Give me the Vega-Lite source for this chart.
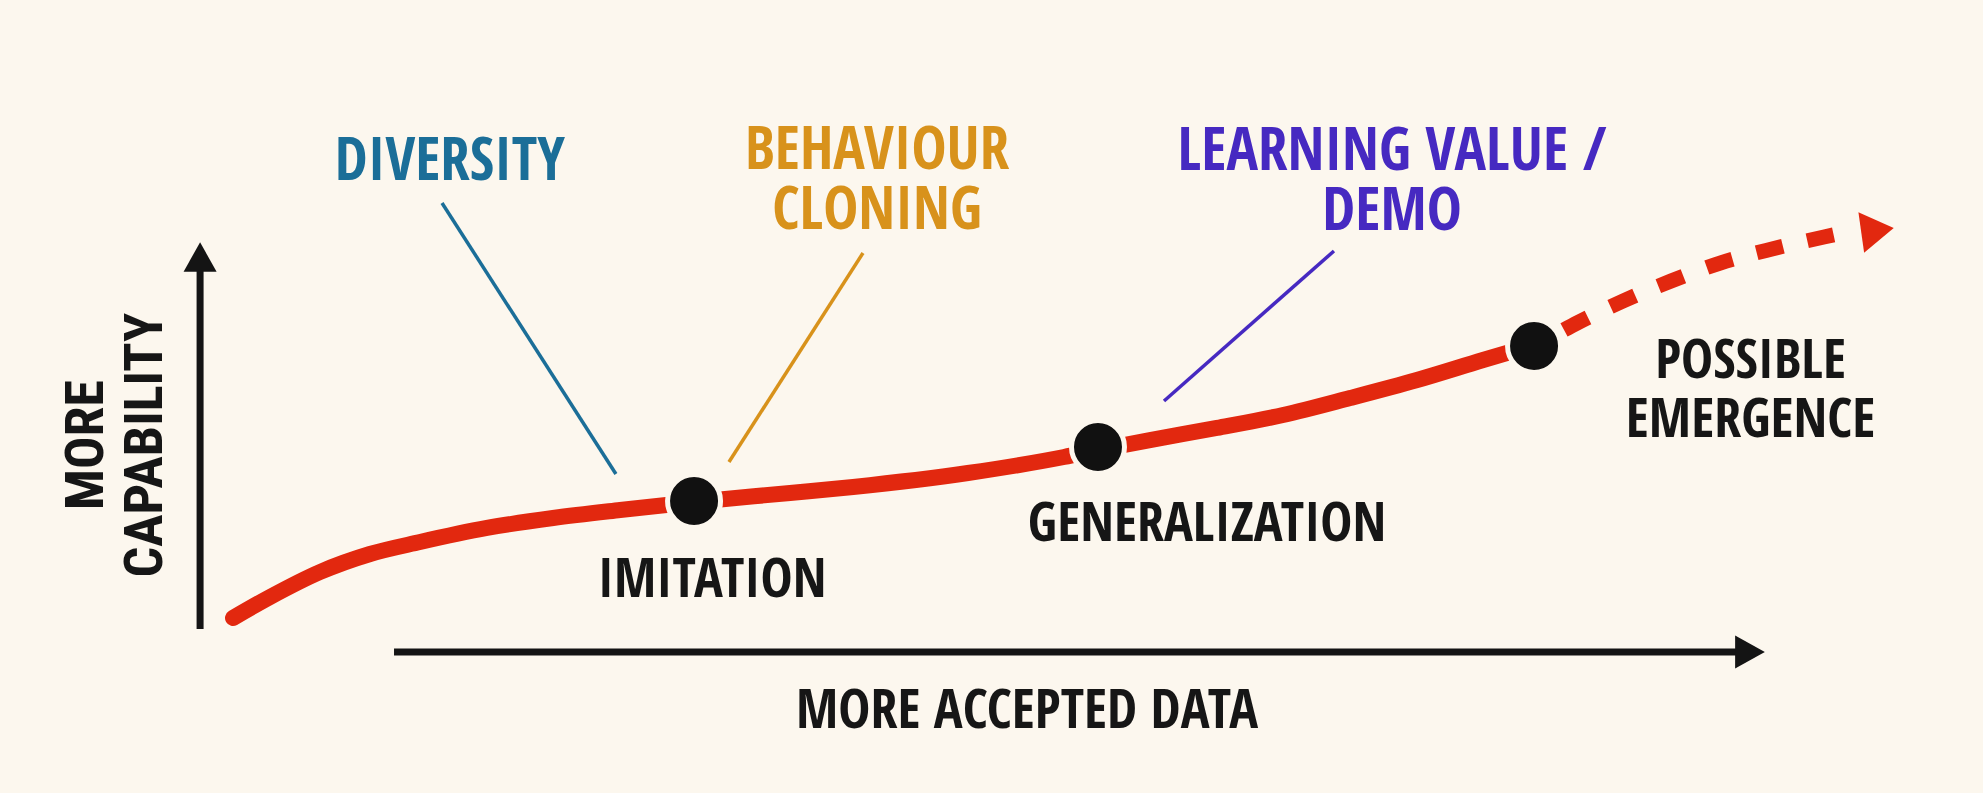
{
  "$schema": "https://vega.github.io/schema/vega-lite/v6.json",
  "description": "Conceptual chart: capability grows with more accepted data, from imitation to generalization to possible emergence",
  "width": 1983,
  "height": 793,
  "autosize": {"type": "fit", "contains": "padding"},
  "padding": 0,
  "background": "#fcf7ee",
  "config": {
    "view": {"stroke": null},
    "text": {"font": "Open Sans Condensed, Roboto Condensed, sans-serif", "fontWeight": "bold"}
  },
  "datasets": {
    "trend": [
      {"data": 11.75, "capability": 22.07},
      {"data": 13.62, "capability": 24.72},
      {"data": 16.14, "capability": 27.87},
      {"data": 18.66, "capability": 30.14},
      {"data": 21.18, "capability": 31.65},
      {"data": 24.56, "capability": 33.42},
      {"data": 27.89, "capability": 34.68},
      {"data": 31.27, "capability": 35.69},
      {"data": 35.00, "capability": 36.70},
      {"data": 39.84, "capability": 37.83},
      {"data": 43.02, "capability": 38.59},
      {"data": 48.81, "capability": 40.35},
      {"data": 53.66, "capability": 42.37},
      {"data": 55.37, "capability": 43.25},
      {"data": 57.99, "capability": 44.51},
      {"data": 61.37, "capability": 46.03},
      {"data": 64.70, "capability": 47.67},
      {"data": 68.08, "capability": 49.81},
      {"data": 71.46, "capability": 52.08},
      {"data": 74.79, "capability": 54.60},
      {"data": 77.36, "capability": 56.49}
    ],
    "projection": [
      {"data": 78.87, "capability": 58.39},
      {"data": 79.53, "capability": 59.27},
      {"data": 81.85, "capability": 62.04},
      {"data": 84.27, "capability": 64.56},
      {"data": 86.74, "capability": 66.83},
      {"data": 89.36, "capability": 68.60},
      {"data": 91.98, "capability": 70.11},
      {"data": 92.69, "capability": 70.49}
    ],
    "projectionTip": [
      {"data": 94.68, "capability": 70.97}
    ],
    "stages": [
      {"stage": "IMITATION", "data": 35.00, "capability": 36.82, "labelX": 35.91, "labelY": 24.72},
      {"stage": "GENERALIZATION", "data": 55.37, "capability": 43.63, "labelX": 60.87, "labelY": 31.78},
      {"stage": "POSSIBLE\nEMERGENCE", "data": 77.36, "capability": 56.37, "labelX": 88.28, "labelY": 52.33}
    ],
    "factors": [
      {"topic": "Diversity", "x": 22.29, "y": 74.40, "x2": 31.06, "y2": 40.23},
      {"topic": "Behaviour cloning", "x": 43.52, "y": 68.10, "x2": 36.76, "y2": 41.74},
      {"topic": "Learning value", "x": 67.27, "y": 68.35, "x2": 58.70, "y2": 49.43}
    ],
    "factorLabels": [
      {"topic": "Diversity", "text": "DIVERSITY", "x": 22.69, "y": 77.30},
      {"topic": "Behaviour cloning", "text": "BEHAVIOUR\nCLONING", "x": 44.23, "y": 78.69},
      {"topic": "Learning value", "text": "LEARNING VALUE /\nDEMO", "x": 70.20, "y": 78.56}
    ],
    "axes": [
      {"axis": "y", "x": 10.09, "y": 20.68, "x2": 10.09, "y2": 66.58, "tipX": 10.09, "tipY": 67.59},
      {"axis": "x", "x": 19.87, "y": 17.78, "x2": 87.75, "y2": 17.78, "tipX": 88.25, "tipY": 17.78}
    ],
    "axisTitles": [
      {"axis": "x", "text": "MORE ACCEPTED DATA", "x": 51.79, "y": 8.20},
      {"axis": "y", "text": "MORE", "x": 5.19, "y": 43.88},
      {"axis": "y", "text": "CAPABILITY", "x": 8.17, "y": 43.88}
    ]
  },
  "layer": [
    {
      "data": {"name": "factors"},
      "mark": {"type": "rule", "strokeWidth": 3.5},
      "encoding": {
        "x": {"field": "x", "type": "quantitative", "scale": {"domain": [0, 100], "nice": false, "zero": false}, "axis": null},
        "y": {"field": "y", "type": "quantitative", "scale": {"domain": [0, 100], "nice": false, "zero": false}, "axis": null},
        "x2": {"field": "x2"},
        "y2": {"field": "y2"},
        "color": {"field": "topic", "type": "nominal", "legend": null,
          "scale": {"domain": ["Diversity", "Behaviour cloning", "Learning value"], "range": ["#1b6e98", "#d8921b", "#4629c1"]}}
      }
    },
    {
      "data": {"name": "axes"},
      "mark": {"type": "rule", "strokeWidth": 7, "color": "#141414"},
      "encoding": {
        "x": {"field": "x", "type": "quantitative"},
        "y": {"field": "y", "type": "quantitative"},
        "x2": {"field": "x2"},
        "y2": {"field": "y2"}
      }
    },
    {
      "data": {"name": "axes"},
      "mark": {"type": "point", "filled": true, "color": "#141414", "opacity": 1, "size": 1089},
      "encoding": {
        "x": {"field": "tipX", "type": "quantitative"},
        "y": {"field": "tipY", "type": "quantitative"},
        "shape": {"field": "axis", "type": "nominal", "legend": null,
          "scale": {"domain": ["y", "x"], "range": ["M0,-0.9L1,0.9L-1,0.9Z", "M0.9,0L-0.9,-1L-0.9,1Z"]}}
      }
    },
    {
      "data": {"name": "trend"},
      "mark": {"type": "line", "color": "#e2280f", "strokeWidth": 16, "strokeCap": "round", "interpolate": "monotone"},
      "encoding": {
        "x": {"field": "data", "type": "quantitative"},
        "y": {"field": "capability", "type": "quantitative"}
      }
    },
    {
      "data": {"name": "projection"},
      "mark": {"type": "line", "color": "#e2280f", "strokeWidth": 15, "strokeCap": "butt", "strokeDash": [27, 25], "interpolate": "monotone"},
      "encoding": {
        "x": {"field": "data", "type": "quantitative"},
        "y": {"field": "capability", "type": "quantitative"}
      }
    },
    {
      "data": {"name": "projectionTip"},
      "mark": {"type": "point", "filled": true, "color": "#e2280f", "opacity": 1, "size": 1681, "shape": "M0.8,0L-0.8,-1L-0.8,1Z", "angle": -8},
      "encoding": {
        "x": {"field": "data", "type": "quantitative"},
        "y": {"field": "capability", "type": "quantitative"}
      }
    },
    {
      "data": {"name": "stages"},
      "mark": {"type": "point", "filled": true, "shape": "circle", "color": "#111111", "opacity": 1, "size": 2809, "stroke": "#fcf7ee", "strokeWidth": 5},
      "encoding": {
        "x": {"field": "data", "type": "quantitative"},
        "y": {"field": "capability", "type": "quantitative"}
      }
    },
    {
      "data": {"name": "stages"},
      "mark": {"type": "text", "fontSize": 54, "color": "#161616", "baseline": "alphabetic", "align": "center", "lineBreak": "\n", "lineHeight": 59},
      "encoding": {
        "x": {"field": "labelX", "type": "quantitative"},
        "y": {"field": "labelY", "type": "quantitative"},
        "text": {"field": "stage"}
      }
    },
    {
      "data": {"name": "factorLabels"},
      "mark": {"type": "text", "fontSize": 59, "baseline": "alphabetic", "align": "center", "lineBreak": "\n", "lineHeight": 60},
      "encoding": {
        "x": {"field": "x", "type": "quantitative"},
        "y": {"field": "y", "type": "quantitative"},
        "text": {"field": "text"},
        "color": {"field": "topic", "type": "nominal", "legend": null}
      }
    },
    {
      "data": {"name": "axisTitles"},
      "transform": [{"filter": "datum.axis === 'x'"}],
      "mark": {"type": "text", "fontSize": 54, "color": "#161616", "baseline": "alphabetic", "align": "center"},
      "encoding": {
        "x": {"field": "x", "type": "quantitative"},
        "y": {"field": "y", "type": "quantitative"},
        "text": {"field": "text"}
      }
    },
    {
      "data": {"name": "axisTitles"},
      "transform": [{"filter": "datum.axis === 'y'"}],
      "mark": {"type": "text", "fontSize": 54, "color": "#161616", "baseline": "alphabetic", "align": "center", "angle": 270, "font": "Roboto Condensed, sans-serif", "fontWeight": "bold"},
      "encoding": {
        "x": {"field": "x", "type": "quantitative"},
        "y": {"field": "y", "type": "quantitative"},
        "text": {"field": "text"}
      }
    }
  ]
}
